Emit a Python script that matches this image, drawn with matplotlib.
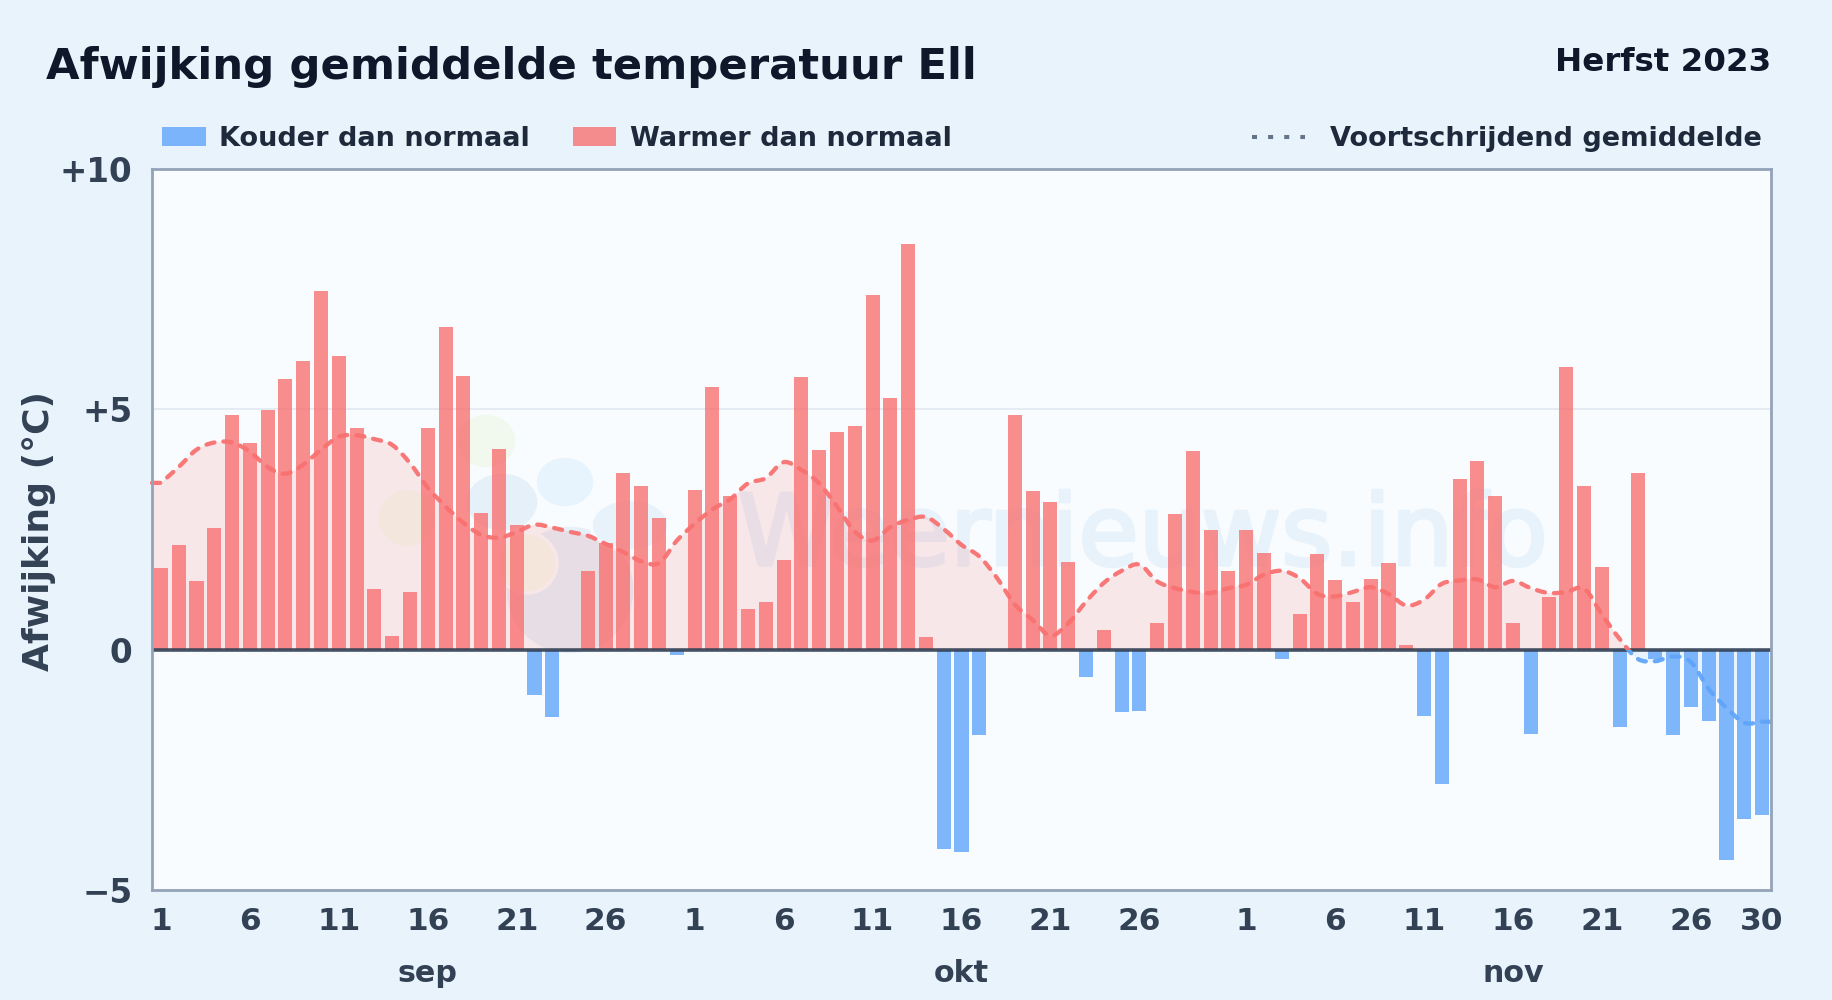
import numpy as np
import matplotlib
matplotlib.use("Agg")
import matplotlib.pyplot as plt
import matplotlib.patheffects as pe
from matplotlib.lines import Line2D
from matplotlib.patches import Ellipse, PathPatch, Rectangle
from matplotlib.path import Path
from matplotlib.transforms import Bbox, TransformedBbox

W, H = 1832, 1000

month_names = ["sep", "okt", "nov"]
month_lengths = [30, 31, 30]
month_label_days = [16, 16, 16]
tick_days = [[1, 6, 11, 16, 21, 26], [1, 6, 11, 16, 21, 26], [1, 6, 11, 16, 21, 26, 30]]

sep_values = [1.70, 2.17, 1.43, 2.53, 4.89, 4.30, 4.99, 5.64, 6.00, 7.47,
              6.10, 4.62, 1.26, 0.29, 1.19, 4.62, 6.71, 5.69, 2.85, 4.18,
              2.60, -0.95, -1.41, -0.03, 1.63, 2.21, 3.67, 3.41, 2.73, -0.12]
okt_values = [3.33, 5.47, 3.19, 0.85, 1.00, 1.87, 5.67, 4.16, 4.53, 4.65,
              7.37, 5.23, 8.44, 0.27, -4.14, -4.20, -1.78, 0.00, 4.89, 3.31,
              3.07, 1.82, -0.56, 0.41, -1.29, -1.27, 0.56, 2.82, 4.14, 2.48, 1.63]
nov_values = [2.48, 2.02, -0.19, 0.75, 2.00, 1.44, 1.00, 1.48, 1.80, 0.10,
              -1.39, -2.80, 3.55, 3.92, 3.19, 0.56, -1.75, 1.10, 5.89, 3.41,
              1.73, -1.61, 3.67, -0.20, -1.78, -1.19, -1.48, -4.38, -3.53, -3.43]

sep_mean = [3.47, 3.80, 4.16, 4.31, 4.31, 4.12, 3.80, 3.66, 3.85, 4.16,
            4.43, 4.46, 4.38, 4.26, 3.88, 3.37, 2.98, 2.64, 2.39, 2.33,
            2.45, 2.60, 2.54, 2.45, 2.37, 2.20, 2.03, 1.84, 1.80, 2.27]
okt_mean = [2.62, 2.92, 3.13, 3.46, 3.57, 3.90, 3.74, 3.46, 2.98, 2.46,
            2.27, 2.55, 2.70, 2.76, 2.51, 2.18, 1.94, 1.49, 0.94, 0.62,
            0.29, 0.55, 1.00, 1.39, 1.64, 1.77, 1.42, 1.28, 1.20, 1.18, 1.28]
nov_mean = [1.35, 1.56, 1.64, 1.49, 1.16, 1.11, 1.20, 1.30, 1.16, 0.92,
            1.04, 1.37, 1.44, 1.46, 1.30, 1.43, 1.28, 1.18, 1.20, 1.27,
            0.73, 0.22, -0.19, -0.24, -0.14, -0.26, -0.82, -1.21, -1.52, -1.50]

y_ticks = [-5, 0, 5, 10]
y_tick_labels = ["\u22125", "0", "+5", "+10"]

RED = "#f87171"
BLUE = "#60a5fa"
PLOT_BG = "#f8fcff"


def fx(px):
    return px / W


def fy(py):
    return 1 - py / H


def smooth_path(x, y):
    # catmull-rom through the daily values, as bezier segments
    verts = [(x[0], y[0])]
    codes = [Path.MOVETO]
    for i in range(len(x) - 1):
        i0, i3 = max(i - 1, 0), min(i + 2, len(x) - 1)
        c1 = (x[i] + (x[i + 1] - x[i0]) / 6, y[i] + (y[i + 1] - y[i0]) / 6)
        c2 = (x[i + 1] - (x[i3] - x[i]) / 6, y[i + 1] - (y[i3] - y[i]) / 6)
        verts += [c1, c2, (x[i + 1], y[i + 1])]
        codes += [Path.CURVE4] * 3
    return verts, codes


values = np.array(sep_values + okt_values + nov_values)
mean = np.array(sep_mean + okt_mean + nov_mean)
days = np.arange(len(values))

fig = plt.figure(figsize=(W / 100, H / 100), dpi=100, facecolor="#e8f3fb")
plt.rcParams["font.family"] = "DejaVu Sans"
ax = fig.add_axes([fx(152), fy(890), fx(1771) - fx(152), fy(169) - fy(890)], facecolor=PLOT_BG)

# watermark: logo blobs and site name
blobs = [
    (570, 590, 130, 130, "#e5f0f9"),
    (630, 525, 78, 52, "#e7f2fb"),
    (502, 502, 74, 60, "#e5f0f9"),
    (565, 482, 60, 52, "#e8f4fd"),
    (486, 441, 62, 56, "#f1f9ee"),
    (407, 518, 60, 60, "#f3fbf0"),
    (527, 563, 60, 60, "#f4fbee"),
]
for bx, by, bw, bh, bc in blobs:
    ax.add_patch(Ellipse((fx(bx), fy(by)), bw / W, bh / H, transform=fig.transFigure,
                         facecolor=bc, edgecolor=PLOT_BG, linewidth=2.5, zorder=0.5))
ax.text(fx(738), fy(565), "Weernieuws.info", transform=fig.transFigure, fontsize=70.7,
        color="#e8f2fb", ha="left", va="baseline", zorder=0.6,
        path_effects=[pe.withStroke(linewidth=2.5, foreground="#e8f2fb")])

ax.set_xlim(-0.5, len(values) - 0.5)
ax.set_ylim(-5, 10)
ax.yaxis.grid(True, color="#e2e8f0", linewidth=1.2, zorder=0.7)
ax.set_axisbelow(True)

# band between the running mean and zero, coloured by sign
verts, codes = smooth_path(days, mean)
upper = TransformedBbox(Bbox([[-1, 0], [len(values), 10]]), ax.transData)
lower = TransformedBbox(Bbox([[-1, -5], [len(values), 0]]), ax.transData)
x_start = days[0] - 0.5
x_end = days[-1] + 0.5
band_verts = [(x_start, 0), (x_start, mean[0]), verts[0]] + verts[1:] + [(x_end, mean[-1]), (x_end, 0), (x_start, 0)]
band_codes = [Path.MOVETO, Path.LINETO, Path.LINETO] + codes[1:] + [Path.LINETO, Path.LINETO, Path.CLOSEPOLY]
for color, clip, a in [(RED, upper, 0.15), (BLUE, lower, 0.1)]:
    band = PathPatch(Path(band_verts, band_codes), facecolor=color, edgecolor="none", alpha=a, zorder=1)
    ax.add_patch(band)
    band.set_clip_box(clip)

colors = [RED if v >= 0 else BLUE for v in values]
ax.bar(days, values, width=0.79, color=colors, alpha=0.8, linewidth=0, zorder=2)

ax.axhline(0, color="#334155", linewidth=2.6, alpha=0.9, zorder=3)

line_verts = [(x_start, mean[0])] + verts + [(x_end, mean[-1])]
line_codes = [Path.MOVETO, Path.LINETO] + codes[1:] + [Path.LINETO]
for color, clip in [(RED, upper), (BLUE, lower)]:
    trend = PathPatch(Path(line_verts, line_codes), facecolor="none", edgecolor=color, linewidth=3.1,
                      linestyle=(0, (1.9, 2.1)), capstyle="round", alpha=0.95, zorder=4)
    ax.add_patch(trend)
    trend.set_clip_box(clip)

for spine in ax.spines.values():
    spine.set_color("#94a3b8")
    spine.set_linewidth(2)
    spine.set_zorder(5)

tick_pos, tick_lab = [], []
offset = 0
for length, tdays, name, label_day in zip(month_lengths, tick_days, month_names, month_label_days):
    for d in tdays:
        tick_pos.append(offset + d - 1)
        tick_lab.append(str(d))
    ax.text(offset + label_day - 1, -(982 - 890) / 721, name, transform=ax.get_xaxis_transform(),
            ha="center", va="baseline", fontsize=21.7, fontweight="bold", color="#334155")
    offset += length
ax.set_xticks(tick_pos, tick_lab)
ax.set_yticks(y_ticks, y_tick_labels)
ax.tick_params(axis="x", length=0, pad=12, labelsize=22.5, labelcolor="#334155")
ax.tick_params(axis="y", length=0, pad=14, labelsize=23.5, labelcolor="#334155")
for lab in ax.get_xticklabels() + ax.get_yticklabels():
    lab.set_fontweight("bold")

fig.text(fx(39), fy(531), "Afwijking (\u00b0C)", rotation=90, ha="center", va="center",
         fontsize=26, fontweight="bold", color="#334155")

fig.text(fx(46), fy(79), "Afwijking gemiddelde temperatuur Ell", ha="left", va="baseline",
         fontsize=31.25, fontweight="bold", color="#0f172a")
fig.text(fx(1771), fy(71), "Herfst 2023", ha="right", va="baseline",
         fontsize=23.4, fontweight="bold", color="#0f172a")

# legend row
for lx, lw_, color, label, tx in [(162, 44, BLUE, "Kouder dan normaal", 219),
                                  (573, 43, RED, "Warmer dan normaal", 630)]:
    fig.add_artist(Rectangle((fx(lx), fy(146)), lw_ / W, 19 / H, transform=fig.transFigure,
                             facecolor=color, edgecolor="none", alpha=0.8))
    fig.text(fx(tx), fy(146), label, ha="left", va="baseline", fontsize=19.5, fontweight="bold", color="#1e293b")
fig.add_artist(Line2D([fx(1252), fx(1305)], [fy(137), fy(137)], transform=fig.transFigure, color="#64748b",
                      linewidth=2.9, linestyle=(0, (1.25, 2.75)), dash_capstyle="butt"))
fig.text(fx(1330), fy(146), "Voortschrijdend gemiddelde", ha="left", va="baseline",
         fontsize=19.5, fontweight="bold", color="#1e293b")

fig.savefig("out.png", dpi=100, facecolor=fig.get_facecolor())
